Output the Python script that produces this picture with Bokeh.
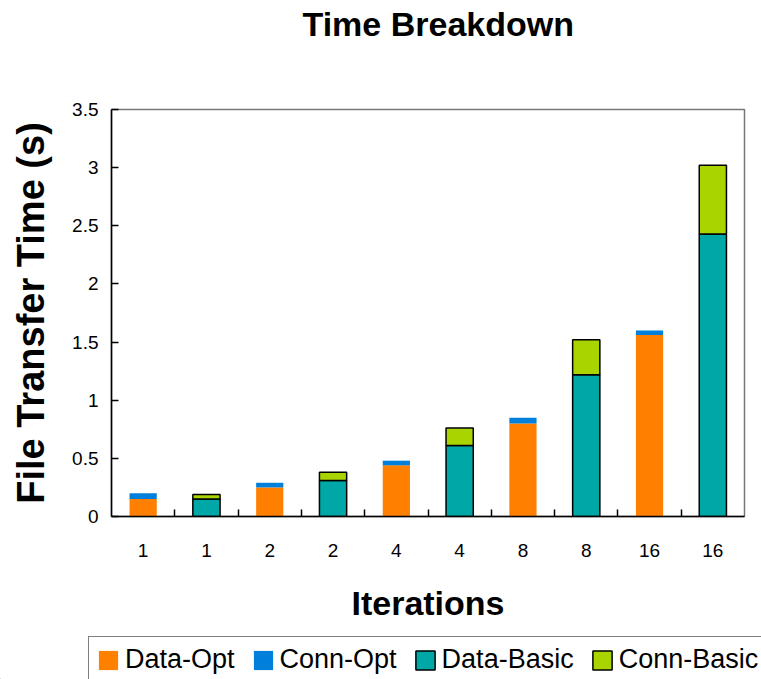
from bokeh.plotting import figure
from bokeh.layouts import column
from bokeh.models import FixedTicker, Legend, LegendItem, Range1d, Title
from bokeh.embed import file_html
from bokeh.resources import INLINE

# Iteration count under each bar (Opt and Basic alternate)
iterations = ["1", "1", "2", "2", "4", "4", "8", "8", "16", "16"]

# Time components in seconds
data_opt = [0.15, 0.25, 0.44, 0.80, 1.56]
conn_opt = [0.05, 0.04, 0.04, 0.05, 0.04]
data_basic = [0.15, 0.31, 0.61, 1.22, 2.43]
conn_basic = [0.04, 0.07, 0.15, 0.30, 0.59]

series = ["Data-Opt", "Conn-Opt", "Data-Basic", "Conn-Basic"]

y_ticks = [0, 0.5, 1, 1.5, 2, 2.5, 3, 3.5]
y_tick_labels = ["0", "0.5", "1", "1.5", "2", "2.5", "3", "3.5"]

ORANGE = "#FF7F00"
BLUE = "#0080DA"
TEAL = "#00A7A7"
GREEN = "#AAD400"
styles = [
    dict(fill_color=ORANGE, line_color=None),
    dict(fill_color=BLUE, line_color=None),
    dict(fill_color=TEAL, line_color="black", line_width=1.5),
    dict(fill_color=GREEN, line_color="black", line_width=1.5),
]

FONT = "Liberation Sans"

p = figure(width=761, height=630, output_backend="svg", toolbar_location=None,
           x_range=Range1d(-0.5, len(iterations) - 0.5), y_range=Range1d(0, 3.5),
           min_border_left=111, min_border_right=17, min_border_bottom=114,
           min_border_top=107)
p.frame_align = False
p.title = None
# spacer between the heading and the plot area
p.add_layout(Title(text=" ", text_font_size="10px", standoff=51), "above")
p.add_layout(Title(text="Time Breakdown", align="left", offset=191, text_font=FONT,
                   text_font_size="34px", text_font_style="bold",
                   text_color="black", standoff=5), "above")

x_opt = [2 * i for i in range(len(data_opt))]
x_basic = [2 * i + 1 for i in range(len(data_basic))]
top_opt = [d + c for d, c in zip(data_opt, conn_opt)]
top_basic = [d + c for d, c in zip(data_basic, conn_basic)]

bw = 0.43
p.vbar(x=x_opt, width=bw, bottom=0, top=data_opt, **styles[0])
p.vbar(x=x_opt, width=bw, bottom=data_opt, top=top_opt, **styles[1])
p.vbar(x=x_basic, width=bw, bottom=0, top=data_basic, **styles[2])
p.vbar(x=x_basic, width=bw, bottom=data_basic, top=top_basic, **styles[3])

p.xgrid.visible = False
p.ygrid.visible = False
p.outline_line_color = "#777777"
p.outline_line_width = 1.5

# x axis: labels under bars, tick marks between bars
xa = p.xaxis[0]
xa.ticker = FixedTicker(ticks=list(range(len(iterations))),
                        minor_ticks=[i + 0.5 for i in range(len(iterations) - 1)])
xa.major_label_overrides = {i: lab for i, lab in enumerate(iterations)}
xa.major_tick_in = 0
xa.major_tick_out = 0
xa.minor_tick_in = 7
xa.minor_tick_out = 0
xa.minor_tick_line_color = "black"
xa.minor_tick_line_width = 1.5
xa.axis_line_color = "black"
xa.axis_line_width = 1.5
xa.major_label_text_font = FONT
xa.major_label_text_font_size = "19px"
xa.major_label_text_color = "black"
xa.major_label_standoff = 27
xa.axis_label = "Iterations"
xa.axis_label_text_font = FONT
xa.axis_label_text_font_size = "34px"
xa.axis_label_text_font_style = "bold"
xa.axis_label_text_color = "black"
xa.axis_label_standoff = 24

ya = p.yaxis[0]
ya.ticker = FixedTicker(ticks=y_ticks, minor_ticks=[])
ya.major_label_overrides = {t: s for t, s in zip(y_ticks, y_tick_labels)}
ya.major_tick_in = 7
ya.major_tick_out = 0
ya.major_tick_line_color = "black"
ya.major_tick_line_width = 1.5
ya.axis_line_color = "black"
ya.axis_line_width = 1.5
ya.major_label_text_font = FONT
ya.major_label_text_font_size = "19px"
ya.major_label_text_color = "black"
ya.major_label_standoff = 13
ya.axis_label = "File Transfer Time (s)"
ya.axis_label_text_font = FONT
ya.axis_label_text_font_size = "38px"
ya.axis_label_text_font_style = "bold"
ya.axis_label_text_color = "black"
ya.axis_label_standoff = 17

# legend strip under the chart; its key swatches come from bars outside the view
lg = figure(frame_width=761, frame_height=49, output_backend="svg",
            toolbar_location=None, x_range=Range1d(0, 1), y_range=Range1d(0, 1),
            x_axis_location=None, y_axis_location=None, min_border=0)
lg.frame_align = False
lg.xgrid.visible = False
lg.ygrid.visible = False
lg.outline_line_color = None
keys = [lg.vbar(x=[-5], bottom=[-5], top=[-4], width=0.1, **st) for st in styles]

legend = Legend(items=[LegendItem(label=s, renderers=[r]) for s, r in zip(series, keys)],
                orientation="horizontal", location=(88, -4),
                border_line_color="black", border_line_width=1.5,
                background_fill_alpha=1, padding=7, margin=0, spacing=16,
                glyph_width=24, glyph_height=24, label_standoff=5,
                label_text_font=FONT, label_text_font_size="27px",
                label_text_color="black")
lg.add_layout(legend, "center")

layout = column(p, lg, spacing=0)
open("out.html", "w").write(file_html(layout, INLINE))
